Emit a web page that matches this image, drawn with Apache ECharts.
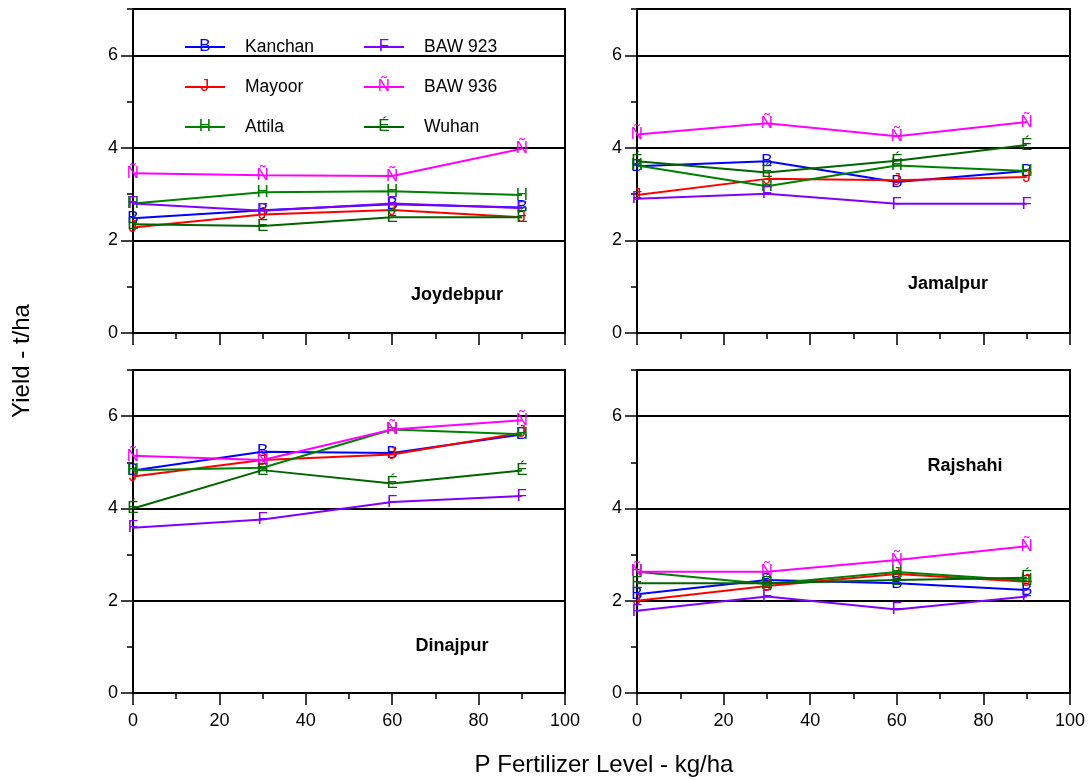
<!DOCTYPE html>
<html>
<head>
<meta charset="utf-8">
<script src="https://cdn.jsdelivr.net/npm/echarts@6/dist/echarts.min.js"></script>
<style>html,body{margin:0;padding:0;background:#fff}#c{width:1091px;height:780px}</style>
</head>
<body>
<div id="c"></div>
<script>
const xLevels = [0, 30, 60, 90];
const varieties = ['Kanchan', 'Mayoor', 'Attila', 'BAW 923', 'BAW 936', 'Wuhan'];
const glyphs = ['B', 'J', 'H', 'F', 'Ñ', 'É'];
const sites = ['Joydebpur', 'Jamalpur', 'Dinajpur', 'Rajshahi'];
const yTicks = [0, 2, 4, 6];

// values ordered as varieties
const joydebpur = [
  [2.48, 2.65, 2.78, 2.71],
  [2.28, 2.56, 2.66, 2.50],
  [2.80, 3.04, 3.06, 2.98],
  [2.80, 2.64, 2.80, 2.70],
  [3.45, 3.41, 3.39, 3.98],
  [2.35, 2.31, 2.50, 2.50]
];
const jamalpur = [
  [3.60, 3.71, 3.26, 3.50],
  [2.98, 3.33, 3.30, 3.37],
  [3.62, 3.17, 3.62, 3.50],
  [2.90, 3.01, 2.79, 2.79],
  [4.29, 4.53, 4.25, 4.56],
  [3.71, 3.47, 3.72, 4.06]
];
const dinajpur = [
  [4.82, 5.23, 5.20, 5.60],
  [4.69, 5.05, 5.17, 5.64],
  [4.83, 4.88, 5.71, 5.61],
  [3.58, 3.76, 4.14, 4.27],
  [5.14, 5.05, 5.71, 5.91],
  [4.00, 4.83, 4.54, 4.82]
];
const rajshahi = [
  [2.14, 2.45, 2.38, 2.23],
  [2.00, 2.32, 2.58, 2.41],
  [2.63, 2.36, 2.62, 2.44],
  [1.78, 2.09, 1.81, 2.09],
  [2.63, 2.63, 2.88, 3.18],
  [2.38, 2.38, 2.45, 2.50]
];
const siteData = [joydebpur, jamalpur, dinajpur, rajshahi];

const colors = ['#0000ff', '#ff0000', '#008000', '#8000ff', '#ff00ff', '#006400'];
const FONT = 'Liberation Sans, Arial, sans-serif';

const rects = [
  {left: 133, top: 9, width: 432, height: 324},
  {left: 637, top: 9, width: 433, height: 324},
  {left: 133, top: 370, width: 432, height: 323},
  {left: 637, top: 370, width: 433, height: 323}
];
const titlePos = [[452, 281], [943, 270], [447, 632], [960, 452]];

const grids = [], xAxes = [], yAxes = [], series = [];
rects.forEach((r, p) => {
  grids.push(Object.assign({show: true, borderColor: '#000', borderWidth: 2, backgroundColor: 'transparent'}, r));
  grids.push(Object.assign({show: false}, r));
  const gi = p * 2;
  xAxes.push({
    gridIndex: gi, type: 'value', min: 0, max: 100, interval: 20,
    axisLine: {show: true, lineStyle: {color: '#000', width: 2}},
    axisTick: {show: true, inside: false, length: 12, lineStyle: {color: '#000', width: 1.5}},
    minorTick: {show: true, splitNumber: 2, length: 6, lineStyle: {color: '#000', width: 1.5}},
    splitLine: {show: false},
    axisLabel: {show: p >= 2, color: '#000', fontSize: 18, fontFamily: FONT, margin: 19}
  });
  xAxes.push({gridIndex: gi + 1, type: 'value', min: 0, max: 100, show: false});
  yAxes.push({
    gridIndex: gi, type: 'value', min: 0, max: 7, interval: 2,
    axisLine: {show: true, lineStyle: {color: '#000', width: 2}},
    axisTick: {show: true, length: 12, customValues: yTicks, lineStyle: {color: '#000', width: 1.5}},
    splitLine: {show: true, lineStyle: {color: '#000', width: 2}},
    axisLabel: {color: '#000', fontSize: 18, fontFamily: FONT, margin: 15, customValues: yTicks,
      formatter: v => (v === 7 ? '' : String(v))}
  });
  yAxes.push({
    gridIndex: gi + 1, type: 'value', min: 0, max: 7, interval: 1,
    axisLine: {show: false},
    axisTick: {show: true, length: 6, lineStyle: {color: '#000', width: 1.5}},
    splitLine: {show: false},
    axisLabel: {show: false}
  });
  const data = siteData[p];
  varieties.forEach((name, i) => {
    series.push({
      name: name, type: 'line', xAxisIndex: gi, yAxisIndex: gi,
      data: xLevels.map((x, k) => [x, data[i][k]]),
      symbol: 'circle', symbolSize: 1, showSymbol: true,
      itemStyle: {color: colors[i]},
      lineStyle: {color: colors[i], width: 2},
      label: {show: true, position: 'inside', formatter: glyphs[i], color: colors[i],
        fontSize: 17, fontFamily: FONT},
      emphasis: {disabled: true},
      animation: false, z: 3 + i
    });
  });
});

const titles = sites.map((s, p) => ({
  text: s, left: titlePos[p][0], top: titlePos[p][1], textAlign: 'center',
  textStyle: {fontSize: 18, fontWeight: 'bold', color: '#000', fontFamily: FONT}
}));

const legendCommon = {
  orient: 'vertical', icon: 'rect', itemWidth: 40, itemHeight: 2, itemGap: 22, padding: 0,
  textStyle: {fontSize: 17.5, color: '#000', fontFamily: FONT, padding: [0, 0, 0, 15]},
  selectedMode: false
};
const legendLeft = [185, 364];
const legendTop = 38;
const legends = [
  Object.assign({left: legendLeft[0], top: legendTop, data: varieties.slice(0, 3)}, legendCommon),
  Object.assign({left: legendLeft[1], top: legendTop, data: varieties.slice(3, 6)}, legendCommon)
];

const graphics = [];
varieties.forEach((v, i) => {
  const col = Math.floor(i / 3), row = i % 3;
  graphics.push({
    type: 'text', x: legendLeft[col] + 20, y: 46 + row * 40, z: 100,
    style: {text: glyphs[i], fill: colors[i], font: '17px ' + FONT, align: 'center', verticalAlign: 'middle'}
  });
});
graphics.push({
  type: 'text', x: 604, y: 765,
  style: {text: 'P Fertilizer Level - kg/ha', fill: '#000', font: '24px ' + FONT, align: 'center', verticalAlign: 'middle'}
});
graphics.push({
  type: 'text', x: 22, y: 361, rotation: Math.PI / 2,
  style: {text: 'Yield - t/ha', fill: '#000', font: '24px ' + FONT, align: 'center', verticalAlign: 'middle'}
});

const chart = echarts.init(document.getElementById('c'), null, {renderer: 'canvas'});
chart.setOption({
  animation: false,
  backgroundColor: '#fff',
  title: titles,
  legend: legends,
  grid: grids,
  xAxis: xAxes,
  yAxis: yAxes,
  series: series,
  graphic: graphics
});
</script>
</body>
</html>
